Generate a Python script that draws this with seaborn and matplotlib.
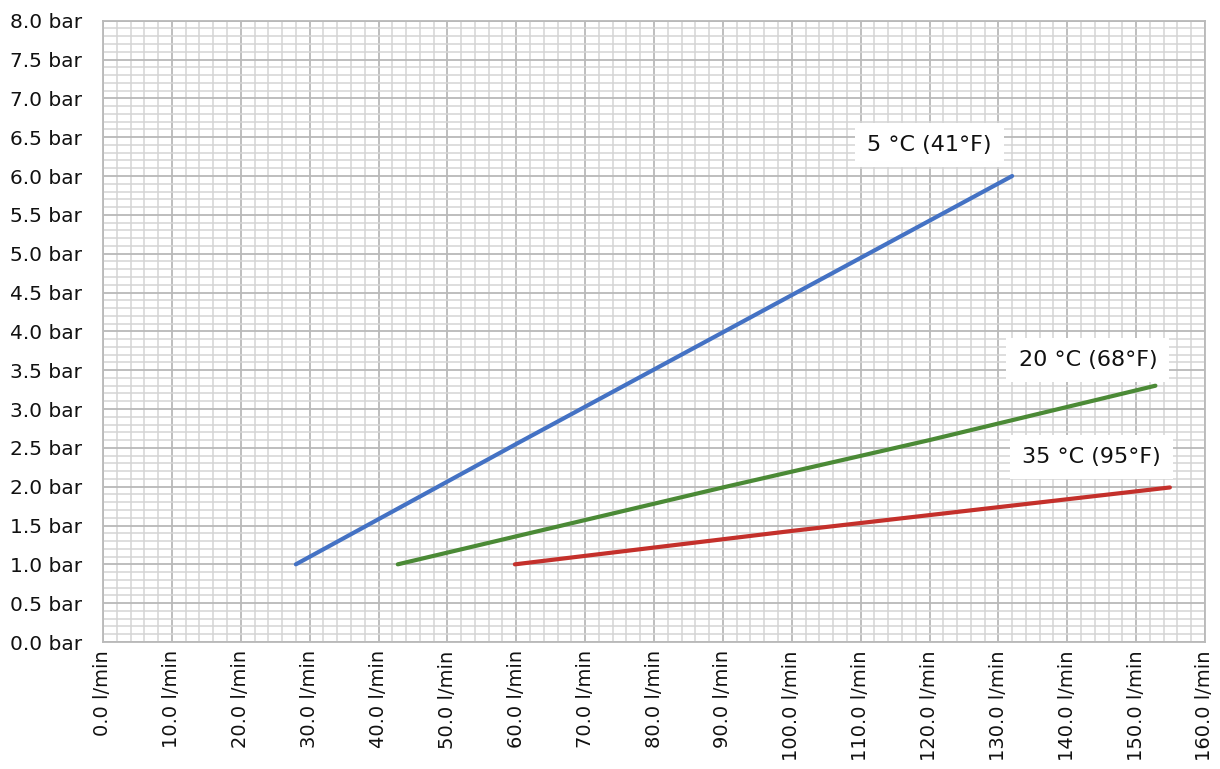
import numpy as np
import pandas as pd
import matplotlib
matplotlib.use("Agg")
import matplotlib.pyplot as plt
from matplotlib.ticker import MultipleLocator, FuncFormatter
import seaborn as sns

# ---- data ----
series_names = ["5 °C (41°F)", "20 °C (68°F)", "35 °C (95°F)"]
flow_5c = [28.0, 60.0, 132.0]
bar_5c = [1.0, 2.55, 6.0]
flow_20c = [42.8, 90.0, 120.0, 152.8]
bar_20c = [1.0, 1.99, 2.6, 3.3]
flow_35c = [59.8, 100.0, 154.9]
bar_35c = [1.0, 1.43, 1.99]
colors = ["#4472C4", "#4B8A36", "#C4302B"]
label_x = [120.0, 143.0, 143.5]
label_y = [6.40, 3.63, 2.38]

df = pd.concat([
    pd.DataFrame({"flow": flow_5c, "bar": bar_5c, "series": series_names[0]}),
    pd.DataFrame({"flow": flow_20c, "bar": bar_20c, "series": series_names[1]}),
    pd.DataFrame({"flow": flow_35c, "bar": bar_35c, "series": series_names[2]}),
], ignore_index=True)

sns.set_style("white")
plt.rcParams["font.family"] = ["DejaVu Sans"]

fig = plt.figure(figsize=(12.2, 7.69), dpi=100)
ax = fig.add_axes([103 / 1220, 1 - 642 / 769, (1205 - 103) / 1220, (642 - 20.7) / 769])

sns.lineplot(data=df, x="flow", y="bar", hue="series", palette=colors,
             linewidth=3.0, ax=ax, legend=False, sort=False, estimator=None)

ax.set_xlim(0, 160)
ax.set_ylim(0, 8)
ax.xaxis.set_major_locator(MultipleLocator(10))
ax.xaxis.set_minor_locator(MultipleLocator(2))
ax.yaxis.set_major_locator(MultipleLocator(0.5))
ax.yaxis.set_minor_locator(MultipleLocator(0.1))
ax.xaxis.set_major_formatter(FuncFormatter(lambda v, p: f"{v:.1f} l/min"))
ax.yaxis.set_major_formatter(FuncFormatter(lambda v, p: f"{v:.1f} bar"))
ax.grid(which="minor", color="#d4d4d4", linewidth=1.1)
ax.grid(which="major", color="#b9b9b9", linewidth=1.3)
ax.set_axisbelow(True)
ax.tick_params(which="both", length=0)
ax.tick_params(axis="x", labelrotation=90, labelsize=14, pad=6, colors="#111111")
ax.tick_params(axis="y", labelsize=14.5, pad=15, colors="#111111")
ax.set_xlabel("")
ax.set_ylabel("")
for s in ax.spines.values():
    s.set_color("#b9b9b9")
    s.set_linewidth(1.3)
    s.set_visible(True)

for name, lx, ly in zip(series_names, label_x, label_y):
    ax.text(lx, ly, name, ha="center", va="center", fontsize=16, color="#111111",
            bbox=dict(boxstyle="square,pad=0.55", fc="white", ec="none"), zorder=5)

fig.savefig("out.png", dpi=100)
